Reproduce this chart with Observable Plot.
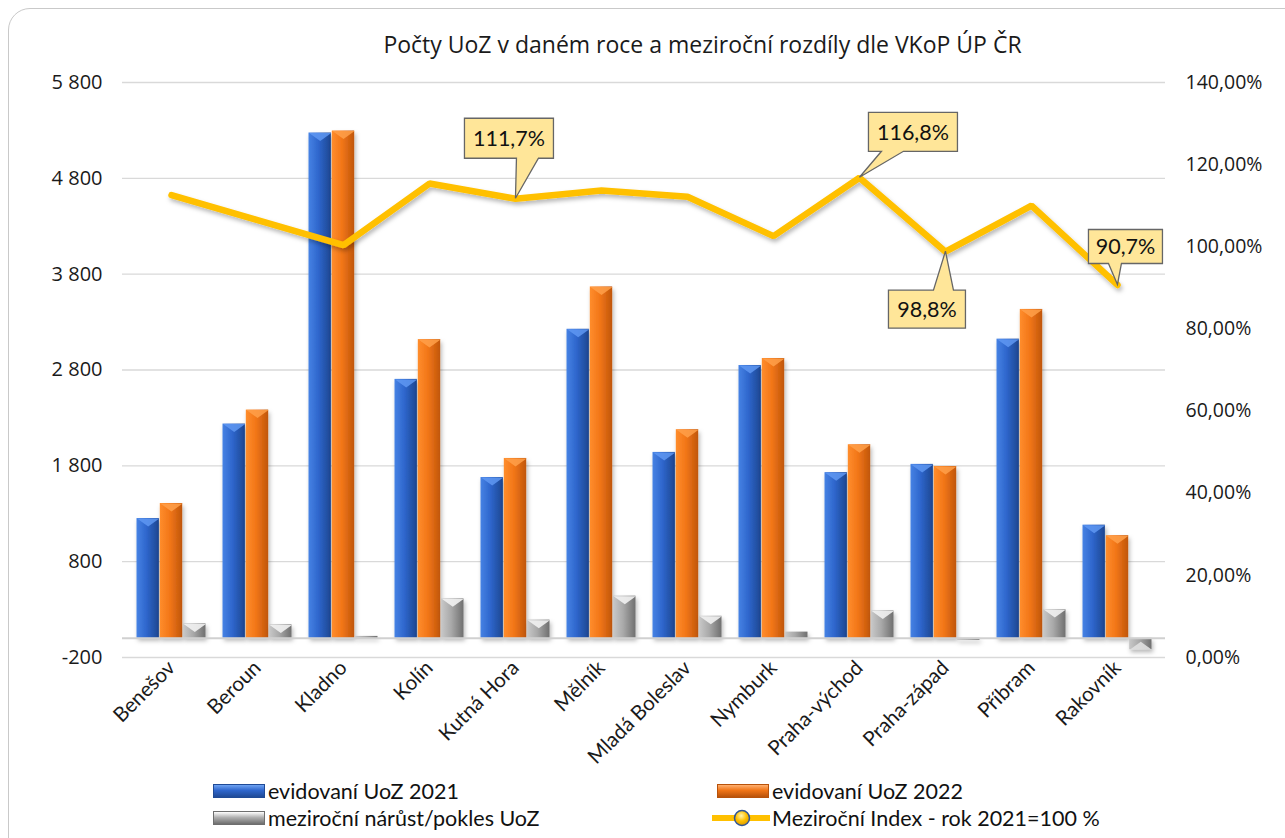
<!DOCTYPE html>
<html>
<head>
<meta charset="utf-8">
<script src="https://cdn.jsdelivr.net/npm/d3@7"></script>
<script src="https://cdn.jsdelivr.net/npm/@observablehq/plot@0.6"></script>
<style>
  html, body { margin: 0; padding: 0; background: #fff; }
  #wrap { position: relative; width: 1285px; height: 838px; overflow: hidden; font-family: "Open Sans", sans-serif; }
  #frame { position: absolute; left: 8px; top: 8px; width: 1320px; height: 880px; border: 1.3px solid #c9c9c9; border-radius: 22px; box-sizing: border-box; }
  #title { position: absolute; top: 28px; left: 120px; width: 1165px; text-align: center; font-size: 23px; color: #1a1a1a; }
  #chart { position: absolute; left: 0; top: 0; }
  .lg { position: absolute; display: flex; align-items: center; font-family: Lato, sans-serif; font-size: 21.5px; color: #111; white-space: nowrap; height: 26px; }
  .sw { width: 52px; height: 14px; margin-right: 3px; box-sizing: border-box; }
</style>
</head>
<body>
<div id="wrap">
  <div id="frame"></div>
  <div id="title">Počty UoZ v daném roce a meziroční rozdíly dle VKoP ÚP ČR</div>
  <div id="chart"></div>
  <div class="lg" style="left:213px; top:778px;"><div class="sw" style="background:linear-gradient(#6fa3f2,#2f66cc 45%,#1f4a96); border:1px solid #1f4a96"></div>evidovaní UoZ 2021</div>
  <div class="lg" style="left:717px; top:778px;"><div class="sw" style="background:linear-gradient(#ffb070,#f07416 45%,#b8520a); border:1px solid #b8520a"></div>evidovaní UoZ 2022</div>
  <div class="lg" style="left:213px; top:805px;"><div class="sw" style="background:linear-gradient(#ffffff,#b0b0b0 45%,#6e6e6e); border:1px solid #6e6e6e"></div>meziroční nárůst/pokles UoZ</div>
  <div class="lg" style="left:712px; top:805px;">
    <svg width="58" height="20" style="margin-right:2px"><defs><radialGradient id="lgDot" cx="45%" cy="35%" r="65%"><stop offset="0%" stop-color="#fff6b0"/><stop offset="55%" stop-color="#ffc000"/><stop offset="100%" stop-color="#d99a00"/></radialGradient></defs><line x1="0" y1="10" x2="58" y2="10" stroke="#FFC000" stroke-width="6"/><circle cx="30" cy="10" r="7.5" fill="url(#lgDot)" stroke="#2f5597" stroke-width="1.5"/></svg>Meziroční Index - rok 2021=100 %</div>
</div>
<script>
// ---- data ----
const categories = ["Benešov", "Beroun", "Kladno", "Kolín", "Kutná Hora", "Mělník", "Mladá Boleslav", "Nymburk", "Praha-východ", "Praha-západ", "Příbram", "Rakovník"];
const uoz2021 = [1250, 2236, 5273, 2702, 1678, 3225, 1940, 2847, 1729, 1815, 3122, 1181];
const uoz2022 = [1407, 2382, 5294, 3117, 1877, 3667, 2177, 2920, 2020, 1793, 3432, 1071];
const uozChange = [150, 140, 20, 412, 190, 440, 230, 65, 285, -22, 300, -120];
const indexPct = [112.6, 106.5, 100.4, 115.4, 111.7, 113.7, 112.2, 102.6, 116.8, 98.8, 110.0, 90.7];
const leftTicks = [-200, 800, 1800, 2800, 3800, 4800, 5800];
const rightTicks = [0, 20, 40, 60, 80, 100, 120, 140];
const calloutCats = ["Kutná Hora", "Praha-východ", "Praha-západ", "Rakovník"];
const calloutLabels = ["111,7%", "116,8%", "98,8%", "90,7%"];

// ---- build ----
const rows = categories.map((c, i) => ({cat: c, v21: uoz2021[i], v22: uoz2022[i], dv: uozChange[i], idx: indexPct[i]}));
const yMin = -200, yMax = 5800, pMax = 140;
const toLeft = p => yMin + p / pMax * (yMax - yMin);   // secondary (right) axis mapping
const idxOf = c => indexPct[categories.indexOf(c)];
const callouts = calloutCats.map((c, i) => ({cat: c, label: calloutLabels[i], y: toLeft(idxOf(c))}));

const W = 1285, H = 790, mL = 122, mR = 120, mT = 82, mB = 133;
const band = (W - mL - mR) / categories.length;
const bw = 23.3;
const inset = k => { // k = -1,0,1 : bar position within the group
  const left = band / 2 - bw / 2 + k * bw;
  return {insetLeft: left, insetRight: band - left - bw};
};
// bevel symbols on bar ends
const bevelDown = {draw(ctx) { ctx.moveTo(-bw / 2 + 0.5, 0); ctx.lineTo(bw / 2 - 0.5, 0); ctx.lineTo(0, 8); ctx.closePath(); }};
const bevelUp = {draw(ctx) { ctx.moveTo(-bw / 2 + 0.5, 0); ctx.lineTo(bw / 2 - 0.5, 0); ctx.lineTo(0, -8); ctx.closePath(); }};

const loc = d3.formatLocale({decimal: ",", thousands: "\u00a0", grouping: [3], currency: ["", ""], minus: "-"});
const fmtLeft = loc.format(",");
const fmtRight = v => ((v - yMin) / (yMax - yMin) * pMax).toFixed(2).replace(".", ",") + "%";

// callout box geometry relative to the anchored point (pixels): box offset/size, pointer base span
const calloutGeom = {
  "Kutná Hora":   {bx: -51, by: -80, w: 89, h: 40, p0: 1, p1: 23},
  "Praha-východ": {bx: 9, by: -65, w: 89, h: 39, p0: 22, p1: 44},
  "Praha-západ":  {bx: -57, by: 39, w: 77, h: 38, p0: -12, p1: 8},
  "Rakovník":     {bx: -29, by: -55, w: 74, h: 34, p0: -9, p1: 4}
};
function renderCallouts(I, scales, V) {
  const g = d3.create("svg:g");
  const half = band / 2; // band scale positions are band starts; centre them
  for (const i of I) {
    const d = callouts[i], px = V.x[i] + half, py = V.y[i], G = calloutGeom[d.cat];
    const x0 = px + G.bx, y0 = py + G.by, x1 = x0 + G.w, y1 = y0 + G.h;
    const path = G.by < 0
      ? `M${x0},${y0}H${x1}V${y1}H${px + G.p1}L${px},${py}L${px + G.p0},${y1}H${x0}Z`
      : `M${x0},${y0}H${px + G.p0}L${px},${py}L${px + G.p1},${y0}H${x1}V${y1}H${x0}Z`;
    g.append("path").attr("d", path).attr("fill", "#FFE699").attr("stroke", "#666").attr("stroke-width", 1.3)
      .attr("stroke-linejoin", "miter");
    g.append("text").attr("x", (x0 + x1) / 2).attr("y", (y0 + y1) / 2).attr("dy", "0.36em")
      .attr("text-anchor", "middle").attr("font-family", "Lato").attr("font-size", 21.5).attr("fill", "#111")
      .text(d.label);
  }
  return g.node();
}

const pos = rows.filter(d => d.dv >= 100), neg = rows.filter(d => d.dv <= -100);

const chart = Plot.plot({
  width: W, height: H, marginLeft: mL, marginRight: mR, marginTop: mT, marginBottom: mB,
  style: {fontFamily: "Open Sans", color: "#1a1a1a", background: "transparent"},
  x: {domain: categories, padding: 0, axis: null},
  y: {domain: [yMin, yMax], axis: null},
  marks: [
    Plot.ruleY(leftTicks, {stroke: "#d9d9d9", strokeWidth: 1.4}),
    Plot.axisY({ticks: leftTicks, tickFormat: fmtLeft, anchor: "left", tickSize: 0, tickPadding: 20, fontSize: 20, label: null}),
    Plot.axisY({ticks: rightTicks.map(toLeft), tickFormat: fmtRight, anchor: "right", tickSize: 0, tickPadding: 20, fontSize: 19.5, label: null}),
    Plot.axisX({anchor: "bottom", tickRotate: -45, tickSize: 0, tickPadding: 7, fontSize: 20.5, fontFamily: "Lato", label: null}),
    Plot.barY(rows, {x: "cat", y: "v21", fill: "url(#gBlue)", ...inset(-1)}),
    Plot.barY(rows, {x: "cat", y: "v22", fill: "url(#gOrange)", ...inset(0)}),
    Plot.barY(rows, {x: "cat", y: "dv", fill: "url(#gGray)", ...inset(1)}),
    Plot.dot(rows, {x: "cat", y: "v21", symbol: bevelDown, r: 5, dx: -bw, fill: "#5f98f2", fillOpacity: 0.85, stroke: "none"}),
    Plot.dot(rows, {x: "cat", y: "v22", symbol: bevelDown, r: 5, fill: "#ffa04a", fillOpacity: 0.85, stroke: "none"}),
    Plot.dot(pos, {x: "cat", y: "dv", symbol: bevelDown, r: 5, dx: bw, fill: "#f2f2f2", fillOpacity: 0.9, stroke: "none"}),
    Plot.dot(neg, {x: "cat", y: "dv", symbol: bevelUp, r: 5, dx: bw, fill: "#e0e0e0", fillOpacity: 0.9, stroke: "none"}),
    Plot.ruleY([0], {stroke: "#d0d0d0", strokeWidth: 2}),
    Plot.line(rows, {x: "cat", y: d => toLeft(d.idx), stroke: "#FFC000", strokeWidth: 6.5, strokeLinejoin: "miter"}),
    Plot.dot(callouts, {x: "cat", y: "y", r: 1, render: renderCallouts})
  ]
});

const svg = d3.select(chart);
svg.insert("defs", ":first-child").html(`
  <linearGradient id="gBlue" x1="0" x2="1" y1="0" y2="0">
    <stop offset="0%" stop-color="#4682e4"/><stop offset="45%" stop-color="#2e66cc"/><stop offset="100%" stop-color="#1d4690"/>
  </linearGradient>
  <linearGradient id="gOrange" x1="0" x2="1" y1="0" y2="0">
    <stop offset="0%" stop-color="#ff8d2c"/><stop offset="45%" stop-color="#f27618"/><stop offset="100%" stop-color="#c0560b"/>
  </linearGradient>
  <linearGradient id="gGray" x1="0" x2="1" y1="0" y2="0">
    <stop offset="0%" stop-color="#c8c8c8"/><stop offset="45%" stop-color="#a9a9a9"/><stop offset="100%" stop-color="#6f6f6f"/>
  </linearGradient>
  <filter id="shadow" x="-20%" y="-20%" width="140%" height="160%">
    <feDropShadow dx="1.5" dy="3" stdDeviation="2" flood-color="#000" flood-opacity="0.28"/>
  </filter>`);
svg.selectAll('g[aria-label="bar"]').attr("filter", "url(#shadow)");
svg.selectAll('g[aria-label="line"]').attr("filter", "url(#shadow)");
document.getElementById("chart").appendChild(chart);
</script>
</body>
</html>
